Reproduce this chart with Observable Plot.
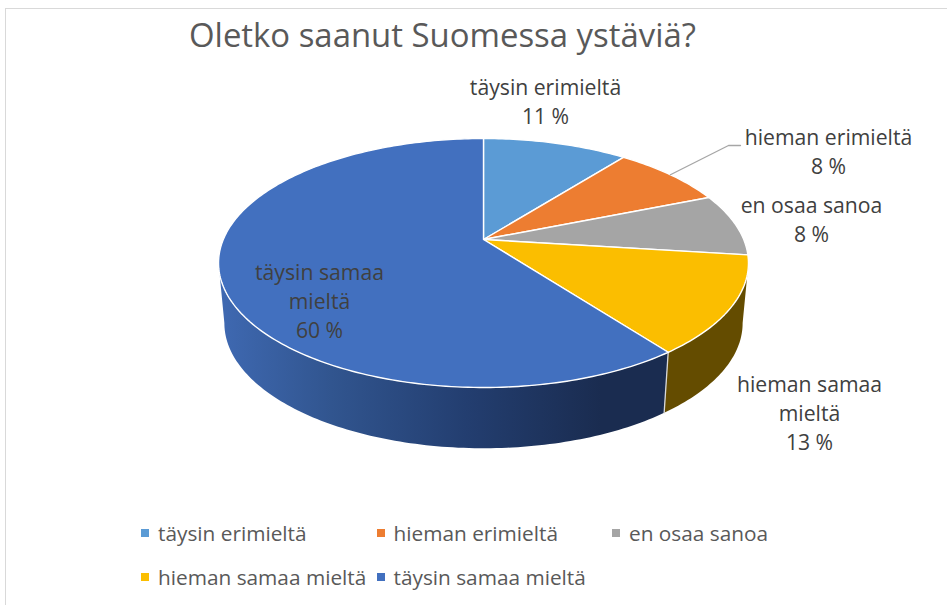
<!DOCTYPE html>
<html><head><meta charset="utf-8">
<script src="https://cdn.jsdelivr.net/npm/d3@7"></script>
<script src="https://cdn.jsdelivr.net/npm/@observablehq/plot@0.6"></script>
<style>
html,body{margin:0;padding:0;background:#fff;overflow:hidden}
body{width:947px;height:605px;position:relative;font-family:"Open Sans",sans-serif}
#frame{position:absolute;left:5px;top:8px;width:960px;height:620px;border:1.5px solid #d9d9d9;box-sizing:border-box}
#title{position:absolute;left:189px;top:0;height:64px;line-height:69px;font-size:32.9px;color:#595959;white-space:nowrap}
#chart{position:absolute;left:0;top:64px}
#legend{position:absolute;left:141px;top:511px;display:grid;grid-template-columns:235.5px 235.5px 235.5px;grid-auto-rows:44px;font-size:20.8px;color:#595959}
#legend div{display:flex;align-items:center;white-space:nowrap}
#legend i{display:inline-block;width:8px;height:8px;margin-right:9px}
</style></head><body>
<div id="frame"></div>
<div id="title">Oletko saanut Suomessa ystäviä?</div>
<div id="chart"></div>
<div id="legend"></div>
<script>
const categories = ["täysin erimieltä","hieman erimieltä","en osaa sanoa","hieman samaa mieltä","täysin samaa mieltä"];
const shares = [10.6, 8.3, 8.1, 12.7, 60.3];
const topColors = ["#5b9bd5","#ed7d31","#a5a5a5","#fbbe00","#4270bf"];
const labelTexts = ["täysin erimieltä","hieman erimieltä","en osaa sanoa","hieman samaa\nmieltä","täysin samaa\nmieltä"];

// perspective pie projection
const A = 260.2, B = 120.06, K = 0.1888, SHRINK_X = 0.978, SHRINK_Y = 1.005, DEPTH = 60;
const rad = d => d * Math.PI / 180;
function project(t, r = 1, floor = false) {
  const u = r * Math.sin(t), v = -r * Math.cos(t), w = 1 - K * v;
  return {
    x: (floor ? SHRINK_X : 1) * A * u / w,
    y: -((floor ? SHRINK_Y : 1) * B * v / w) - (floor ? DEPTH : 0)
  };
}
const total = d3.sum(shares);
const cum = d3.cumsum(shares);
const slices = categories.map((name, i) => ({
  name, value: shares[i], color: topColors[i],
  a0: (i ? cum[i - 1] : 0) / total * 2 * Math.PI,
  a1: cum[i] / total * 2 * Math.PI
}));
function arc(a0, a1, r = 1, floor = false) {
  const n = Math.max(2, Math.ceil((a1 - a0) / rad(1)));
  return d3.range(n + 1).map(j => project(a0 + (a1 - a0) * j / n, r, floor));
}
const wedge = s => {
  const c = project(0, 0);
  return [c, ...arc(s.a0, s.a1), c];
};
const sideRight = Math.PI - Math.acos(K);
const sideLeft = 2 * Math.PI - sideRight;
const wall = (a0, a1) => {
  const top = arc(a0, a1), bottom = arc(a0, a1, 1, true).reverse();
  return [...top, ...bottom, top[0]];
};
const seam = slices[3].a1;

const labelOffsets = [[62,139],[345,89],[328,21],[326,-172],[-164,-60]];
const labels = slices.map((s, i) => ({
  text: labelTexts[i] + "\n" + d3.format(".0f")(s.value) + " %",
  x: labelOffsets[i][0], y: labelOffsets[i][1]
}));
const m1 = (slices[1].a0 + slices[1].a1) / 2;
const leader = [project(m1), {x: labels[1].x - 100, y: labels[1].y + 5}, {x: labels[1].x - 88, y: labels[1].y + 5}];

const lineProps = {x: "x", y: "y"};
const plot = Plot.plot({
  width: 947, height: 440, margin: 0,
  x: {domain: [-483, 464], axis: null},
  y: {domain: [-265, 175], axis: null},
  marks: [
    () => {
      const defs = d3.create("svg:defs");
      const g = defs.append("linearGradient").attr("id", "wallBlue");
      [[0,"#3f69b2"],[0.25,"#31558f"],[0.55,"#233e70"],[0.85,"#1a2c50"],[1,"#1a2c50"]].forEach(([o, c]) =>
        g.append("stop").attr("offset", o).attr("stop-color", c));
      return defs.node();
    },
    Plot.line(wall(sideRight, seam), {...lineProps, fill: "#644c00", stroke: "none"}),
    Plot.line(wall(seam, sideLeft), {...lineProps, fill: "url(#wallBlue)", stroke: "none"}),
    Plot.line([project(seam), project(seam, 1, true)], {...lineProps, stroke: "#d9d9d9", strokeWidth: 1.3}),
    ...slices.map(s => Plot.line(wedge(s), {...lineProps, fill: s.color, stroke: "#fff", strokeWidth: 1.4, strokeLinejoin: "round"})),
    Plot.line(leader, {...lineProps, stroke: "#a6a6a6", strokeWidth: 1.3}),
    Plot.text(labels, {x: "x", y: "y", text: "text", fontSize: 21.2, lineHeight: 1.37, fill: "#404040", fontFamily: "Open Sans", lineAnchor: "middle"})
  ]
});
document.getElementById("chart").append(plot);

const legend = d3.select("#legend");
categories.forEach((c, i) => {
  const item = legend.append("div");
  item.append("i").style("background", topColors[i]);
  item.append("span").text(c);
});
</script>
</body></html>
